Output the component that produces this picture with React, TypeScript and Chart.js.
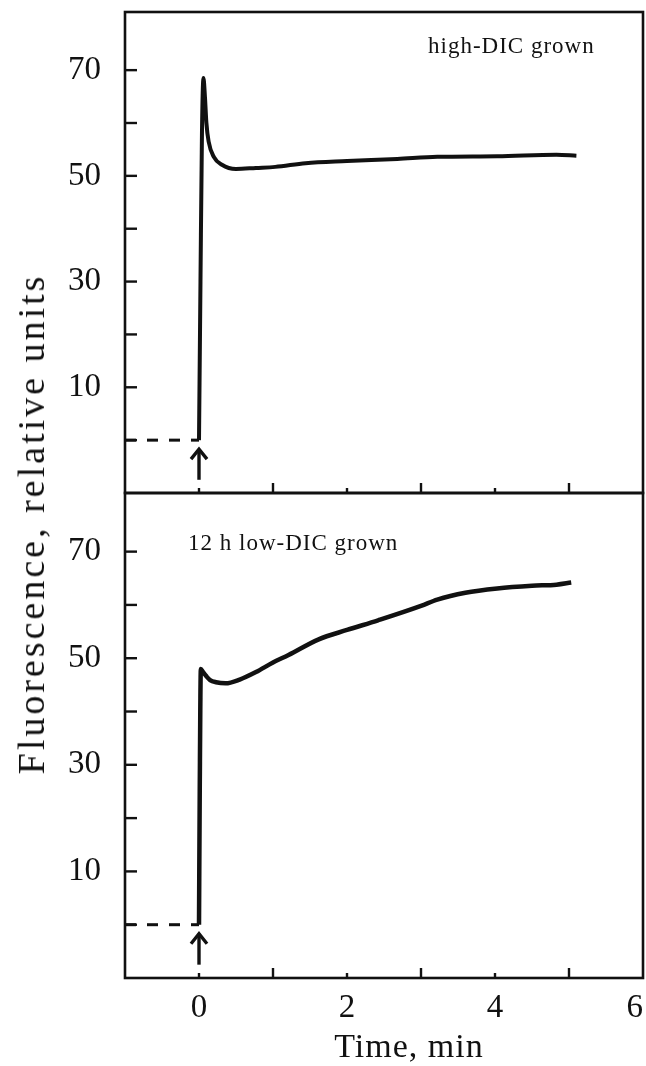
import React, { useEffect, useRef } from 'react';
import { Chart, registerables } from 'chart.js';

Chart.register(...registerables);

// ---- data ----
const topTime = [0, 0.02, 0.04, 0.06, 0.08, 0.1, 0.13, 0.2, 0.31, 0.5, 0.77, 1.03, 1.44, 2.0, 2.68, 3.22, 4.03, 4.83, 5.1];
const topFluor = [0, 30, 58, 68.5, 65, 60, 56.5, 53.6, 52.1, 51.3, 51.5, 51.7, 52.4, 52.8, 53.2, 53.6, 53.7, 54.0, 53.8];

const bottomTime = [0, 0.01, 0.025, 0.05, 0.1, 0.15, 0.23, 0.36, 0.55, 0.77, 1.0, 1.21, 1.61, 2.0, 2.42, 3.0, 3.22, 3.6, 4.03, 4.5, 4.83, 5.03];
const bottomFluor = [0, 25, 48, 47.5, 46.6, 45.9, 45.5, 45.3, 46.0, 47.4, 49.2, 50.6, 53.5, 55.3, 57.1, 59.8, 61.0, 62.3, 63.1, 63.6, 63.8, 64.2];

const baselineTime = [-1, 0];
const baselineFluor = [0, 0];

const arrowTime = [0];
const arrowTip = [-1.7];
const arrowTail = [-7.5];

const xTickValues = [0, 1, 2, 3, 4, 5];
const xTickLabels = [0, 2, 4, 6];
const yTickValues = [0, 10, 20, 30, 40, 50, 60, 70];
const yTickLabels = [10, 30, 50, 70];

const panelLabels = ['high-DIC grown', '12 h low-DIC grown'];
const xTitle = 'Time, min';
const yTitle = 'Fluorescence, relative units';

const INK = '#111111';
const FONT = '"Liberation Serif", "Times New Roman", serif';

const toPoints = (xs: number[], ys: number[]) => xs.map((x, i) => ({ x, y: ys[i] }));

const framePlugin = {
  id: 'frameTicks',
  afterDatasetsDraw(chart: any) {
    const { ctx, scales } = chart;
    const x = scales.x;
    ctx.save();
    ctx.strokeStyle = INK;
    ctx.lineCap = 'butt';
    const line = (x1: number, y1: number, x2: number, y2: number) => {
      ctx.beginPath();
      ctx.moveTo(x1, y1);
      ctx.lineTo(x2, y2);
      ctx.stroke();
    };
    for (const id of ['yTop', 'yBot']) {
      const y = scales[id];
      ctx.lineWidth = 2.6;
      ctx.strokeRect(x.left, y.top, x.right - x.left, y.bottom - y.top);
      ctx.lineWidth = 2.4;
      for (const v of yTickValues) {
        const py = y.getPixelForValue(v);
        line(x.left, py, x.left + 12, py);
      }
      for (const v of xTickValues) {
        const px = x.getPixelForValue(v);
        const len = v % 2 === 1 ? 10 : 5;
        line(px, y.bottom, px, y.bottom - len);
      }
      // arrow marking the addition
      ctx.lineWidth = 3.4;
      const ax = x.getPixelForValue(arrowTime[0]);
      const tip = y.getPixelForValue(arrowTip[0]);
      const tail = y.getPixelForValue(arrowTail[0]);
      line(ax, tail, ax, tip);
      ctx.beginPath();
      ctx.moveTo(ax - 8, tip + 10);
      ctx.lineTo(ax, tip);
      ctx.lineTo(ax + 8, tip + 10);
      ctx.stroke();
    }
    ctx.restore();
  },
};

export default function App() {
  const canvasRef = useRef<HTMLCanvasElement | null>(null);

  useEffect(() => {
    if (!canvasRef.current) return;
    const yScale = (weight: number) => ({
      type: 'linear' as const,
      position: 'left' as const,
      stack: 'panels',
      stackWeight: weight,
      min: -10,
      max: 81,
      grid: { display: false, drawTicks: false },
      border: { display: false },
      ticks: {
        stepSize: 10,
        includeBounds: false,
        autoSkip: false,
        padding: 24,
        color: INK,
        font: { family: FONT, size: 33 },
        callback: (v: any) => (yTickLabels.includes(Number(v)) ? String(v) : ''),
      },
      afterFit: (s: any) => {
        s.width = 125;
        s.paddingTop = 0;
        s.paddingBottom = 0;
      },
    });

    const chart = new Chart(canvasRef.current, {
      type: 'line',
      data: {
        datasets: [
          {
            data: toPoints(baselineTime, baselineFluor),
            yAxisID: 'yTop',
            borderColor: INK,
            borderWidth: 3,
            borderDash: [11, 11],
            pointRadius: 0,
          },
          {
            data: toPoints(topTime, topFluor),
            yAxisID: 'yTop',
            borderColor: INK,
            borderWidth: 4,
            pointRadius: 0,
            cubicInterpolationMode: 'monotone',
          },
          {
            data: toPoints(baselineTime, baselineFluor),
            yAxisID: 'yBot',
            borderColor: INK,
            borderWidth: 3,
            borderDash: [11, 11],
            pointRadius: 0,
          },
          {
            data: toPoints(bottomTime, bottomFluor),
            yAxisID: 'yBot',
            borderColor: INK,
            borderWidth: 4.5,
            pointRadius: 0,
            cubicInterpolationMode: 'monotone',
          },
        ],
      },
      options: {
        animation: false,
        responsive: true,
        maintainAspectRatio: false,
        layout: { padding: { top: 12, right: 3, left: 0, bottom: 0 } },
        plugins: { legend: { display: false }, tooltip: { enabled: false } },
        scales: {
          x: {
            type: 'linear',
            min: -1,
            max: 6,
            grid: { display: false, drawTicks: false },
            border: { display: false },
            ticks: {
              stepSize: 1,
              autoSkip: false,
              maxRotation: 0,
              align: 'inner',
              padding: 11,
              color: INK,
              font: { family: FONT, size: 33 },
              callback: (v: any) => (xTickLabels.includes(Number(v)) ? String(v) : ''),
            },
            afterFit: (s: any) => {
              s.height = 88;
              s.paddingLeft = 0;
              s.paddingRight = 0;
            },
          },
          yBot: yScale(485),
          yTop: yScale(481),
        },
      },
      plugins: [framePlugin],
    });
    return () => chart.destroy();
  }, []);

  const text = (extra: React.CSSProperties): React.CSSProperties => ({
    position: 'absolute',
    fontFamily: FONT,
    color: INK,
    whiteSpace: 'nowrap',
    lineHeight: 1,
    ...extra,
  });

  return (
    <div style={{ position: 'absolute', left: 0, top: 0, width: 646, height: 1066, background: '#fff' }}>
      <canvas ref={canvasRef} />
      <div style={text({ left: 428, top: 34, fontSize: 23, letterSpacing: '1px' })}>{panelLabels[0]}</div>
      <div style={text({ left: 188, top: 531, fontSize: 23, letterSpacing: '1px' })}>{panelLabels[1]}</div>
      <div style={text({ left: 409, top: 1046, fontSize: 34, letterSpacing: '1px', transform: 'translate(-50%, -50%)' })}>{xTitle}</div>
      <div
        style={text({
          left: 31,
          top: 524,
          fontSize: 38,
          letterSpacing: '3px',
          transform: 'translate(-50%, -50%) rotate(-90deg)',
        })}
      >
        {yTitle}
      </div>
    </div>
  );
}
